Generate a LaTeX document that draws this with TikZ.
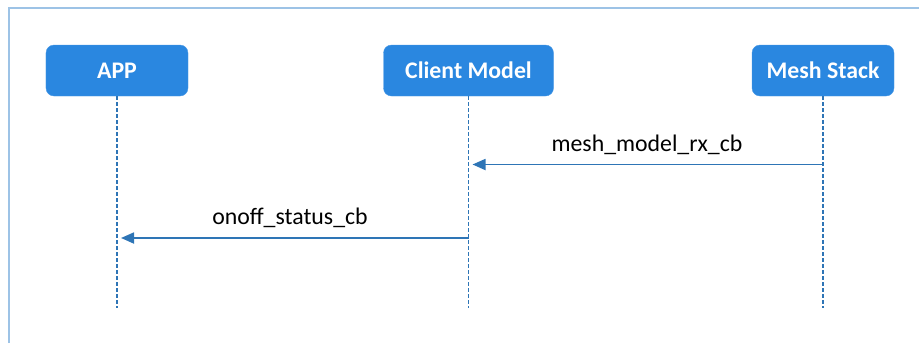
\documentclass[tikz,border=0pt]{standalone}
\usepackage{fontspec}
\setmainfont{Carlito}
\usetikzlibrary{arrows.meta}
\definecolor{boxblue}{RGB}{42,135,224}
\definecolor{lineblue}{RGB}{46,117,182}
\definecolor{framblue}{RGB}{157,195,230}
\begin{document}
\begin{tikzpicture}[x=1bp,y=-1bp,
  actor/.style={draw=boxblue!85!white,fill=boxblue,rounded corners=8bp,minimum width=142bp,minimum height=51bp,inner sep=0pt,text=white,font=\fontsize{23.8bp}{26bp}\selectfont\bfseries},
  lifeline/.style={draw=lineblue,line width=1.8bp,dash pattern=on 4bp off 2bp},
  msg/.style={draw=lineblue,line width=1.8bp,-{Triangle[length=13bp,width=11bp]},shorten >=4bp},
  msglabel/.style={font=\fontsize{23.8bp}{26bp}\selectfont,inner sep=0pt}]
\useasboundingbox (0,0) rectangle (919,343);
% open frame along the top and left edges
\draw[framblue,line width=2bp] (8.5,343) -- (8.5,8) -- (919,8);
% participants
\node[actor] (app) at (117,70.5) {APP};
\node[actor,minimum width=170bp] (client) at (468.5,70.5) {Client Model};
\node[actor] (stack) at (823,70.5) {Mesh Stack};
% lifeline ends
\coordinate (append) at (117,308);
\coordinate (clientend) at (468.5,308);
\coordinate (stackend) at (823,308);
\draw[lifeline] (app.south) -- (append);
\draw[lifeline] (client.south) -- (clientend);
\draw[lifeline] (stack.south) -- (stackend);
% messages
\coordinate (m1s) at (823,164.5);
\coordinate (m1e) at (468.5,164.5);
\draw[msg] (m1s) -- (m1e);
\node[msglabel] (l1) at (647,145) {mesh\_model\_rx\_cb};
\coordinate (m2s) at (468.5,238);
\coordinate (m2e) at (117,238);
\draw[msg] (m2s) -- (m2e);
\node[msglabel] (l2) at (290,218) {onoff\_status\_cb};
\end{tikzpicture}
\end{document}
